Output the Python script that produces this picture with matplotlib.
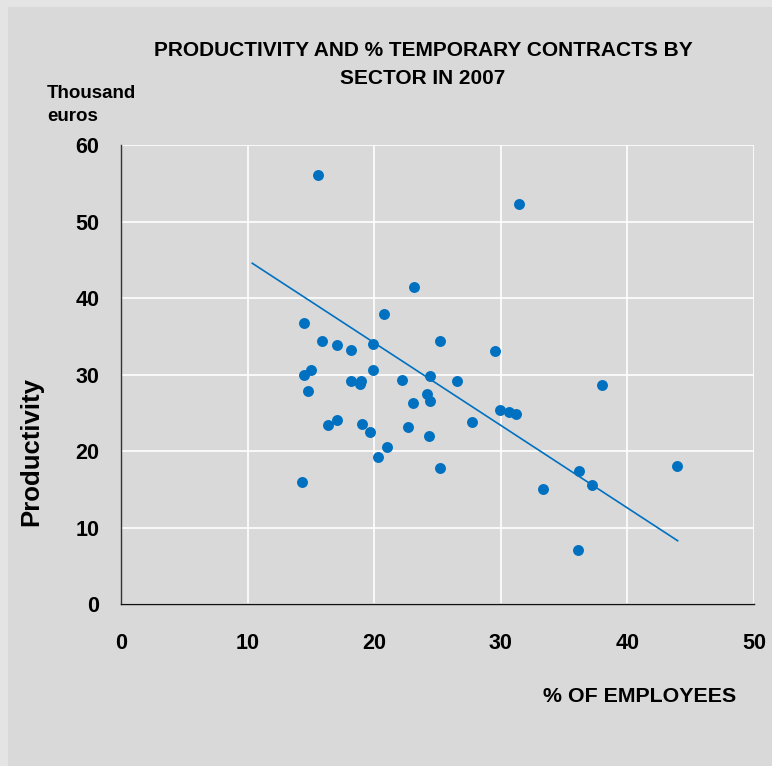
import matplotlib
matplotlib.use("Agg")
import matplotlib.pyplot as plt
from matplotlib.patches import Rectangle

plt.rcParams['font.family'] = ['Liberation Sans', 'DejaVu Sans']

# Data
temp_pct = [15.54, 31.44, 23.12, 20.80, 14.48, 25.16, 15.90, 17.09, 18.19, 19.93,
            29.54, 15.03, 14.45, 19.93, 24.41, 22.20, 26.52, 18.19, 18.98, 18.88,
            14.77, 24.19, 24.41, 23.09, 29.94, 30.62, 31.18, 37.97, 27.70, 16.35,
            17.04, 19.06, 19.64, 22.69, 24.34, 21.01, 20.30, 25.16, 14.32, 36.18,
            37.20, 33.33, 43.94, 36.07]
productivity = [56.08, 52.25, 41.44, 37.95, 36.77, 34.38, 34.38, 33.82, 33.24, 33.99,
                33.07, 30.59, 29.90, 30.59, 29.84, 29.28, 29.15, 29.15, 29.15, 28.72,
                27.80, 27.41, 26.54, 26.27, 25.36, 25.06, 24.88, 28.63, 23.83, 23.40,
                24.09, 23.53, 22.48, 23.18, 21.92, 20.52, 19.22, 17.78, 15.91, 17.39,
                15.52, 14.99, 18.04, 7.02]
trend_x = [10.37, 43.97]
trend_y = [44.54, 8.27]
x_ticks = [0, 10, 20, 30, 40, 50]
y_ticks = [0, 10, 20, 30, 40, 50, 60]

W, H = 772, 766
fig = plt.figure(figsize=(W / 100, H / 100), dpi=100)
fig.patch.set_facecolor('#e4e4e4')
fig.patches.append(Rectangle((8 / W, 0), 1 - 8 / W, 1 - 7 / H, transform=fig.transFigure,
                             facecolor='#d9d9d9', edgecolor='none', zorder=-5))

ax = fig.add_axes([121 / W, 1 - 604 / H, (754 - 121) / W, (604 - 145) / H])
ax.set_zorder(2)
ax.set_facecolor('#d9d9d9')
ax.set_xlim(0, 50)
ax.set_ylim(0, 60)
ax.set_xticks(x_ticks)
ax.set_yticks(y_ticks)
ax.grid(True, color='white', linewidth=1.2)
ax.set_axisbelow(True)
for s in ['top', 'right']:
    ax.spines[s].set_visible(False)
ax.spines['left'].set_color('#333333')
ax.spines['bottom'].set_color('#111111')
ax.spines['left'].set_linewidth(1.0)
ax.spines['bottom'].set_linewidth(1.0)
ax.tick_params(length=0)
ax.tick_params(axis='x', pad=21, labelsize=15.5)
ax.tick_params(axis='y', pad=15.5, labelsize=15.5)
for lab in ax.get_xticklabels() + ax.get_yticklabels():
    lab.set_fontweight('bold')

ax.plot(trend_x, trend_y, color='#0070C0', linewidth=1.2, zorder=2)
ax.scatter(temp_pct, productivity, s=62, color='#0070C0', zorder=3, clip_on=False,
           linewidths=0)

fig.text(423 / W, 1 - 64 / H, 'PRODUCTIVITY AND % TEMPORARY CONTRACTS BY\nSECTOR IN 2007',
         ha='center', va='center', fontsize=15, fontweight='bold', linespacing=1.6,
         zorder=5)
fig.text(47 / W, 1 - 105 / H, 'Thousand\neuros', ha='left', va='center',
         fontsize=13.5, fontweight='bold', linespacing=1.4, zorder=5)
fig.text(31 / W, 1 - 452 / H, 'Productivity', ha='center', va='center', rotation=90,
         fontsize=18.5, fontweight='bold', zorder=5)
fig.text(736 / W, 1 - 697 / H, '% OF EMPLOYEES', ha='right', va='center',
         fontsize=15.4, fontweight='bold', zorder=5)

fig.savefig('out.png', dpi=100, facecolor=fig.get_facecolor())
